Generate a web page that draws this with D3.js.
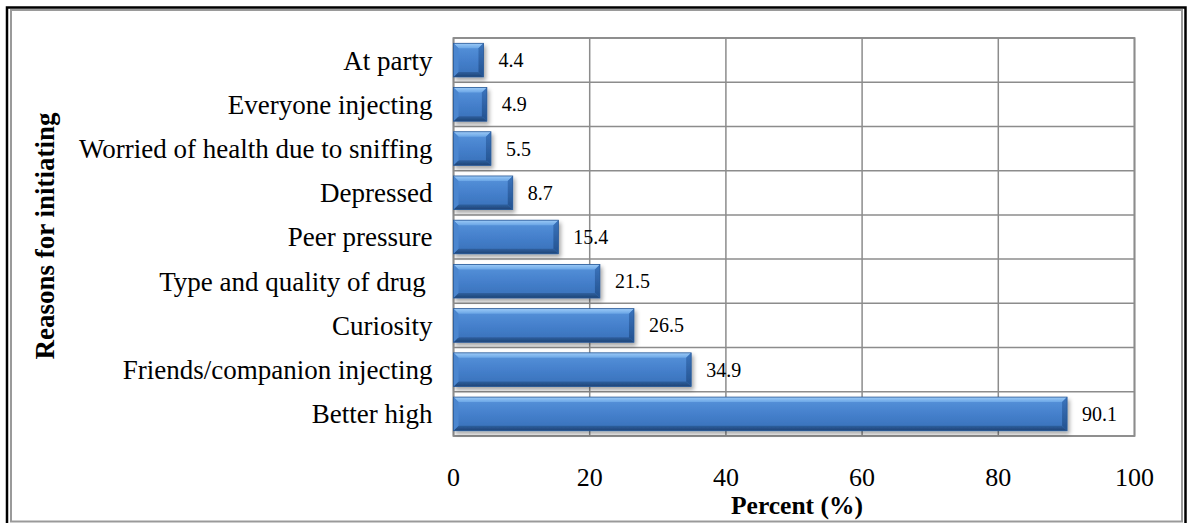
<!DOCTYPE html>
<html>
<head>
<meta charset="utf-8">
<script src="https://cdn.jsdelivr.net/npm/d3@7/dist/d3.min.js"></script>
<style>
  html, body { margin: 0; padding: 0; background: #fff; }
  svg { display: block; }
  text { font-family: "Liberation Serif", "Times New Roman", serif; fill: #000; }
</style>
</head>
<body>
<svg id="chart" width="1189" height="523"></svg>
<script>
// Reasons for initiating injection (percent of respondents)
const categories = [
  "At party",
  "Everyone injecting",
  "Worried of health due to sniffing",
  "Depressed",
  "Peer pressure",
  "Type and quality of drug ",
  "Curiosity",
  "Friends/companion injecting",
  "Better high"
];
const values = [4.4, 4.9, 5.5, 8.7, 15.4, 21.5, 26.5, 34.9, 90.1];
const valueLabels = ["4.4", "4.9", "5.5", "8.7", "15.4", "21.5", "26.5", "34.9", "90.1"];
const xTicks = [0, 20, 40, 60, 80, 100];
const xTitle = "Percent (%)";
const yTitle = "Reasons for initiating";

const svg = d3.select("#chart");
const W = 1189, H = 523;

// Outer frame: dark outline with a grey inner border
svg.append("path")
  .attr("d", `M7,${H} V7.5 H1185.5 V${H}`)
  .attr("fill", "none").attr("stroke", "#000").attr("stroke-width", 2.5);
svg.append("rect")
  .attr("x", 11).attr("y", 10).attr("width", 1171).attr("height", 511.5)
  .attr("fill", "#fff").attr("stroke", "#9a9a9a").attr("stroke-width", 2);

const plot = { left: 453.5, right: 1134.5, top: 38, bottom: 436 };

const x = d3.scaleLinear().domain([0, 100]).range([plot.left, plot.right]);
const y = d3.scaleBand().domain(categories).range([plot.top, plot.bottom])
  .paddingInner(0.24).paddingOuter(0.12);

const defs = svg.append("defs");
function grad(id, stops) {
  const g = defs.append("linearGradient").attr("id", id)
    .attr("x1", 0).attr("y1", 0).attr("x2", 0).attr("y2", 1);
  stops.forEach(([o, c]) => g.append("stop").attr("offset", o).attr("stop-color", c));
}
grad("faceGrad", [[0, "#5894db"], [0.5, "#4580cc"], [1, "#3870b8"]]);
grad("topGrad", [[0, "#9ccaf7"], [1, "#6aa6e6"]]);
grad("botGrad", [[0, "#2f609f"], [1, "#1e4476"]]);
grad("sideGrad", [[0, "#3b74bd"], [1, "#24528f"]]);

const shadow = defs.append("filter").attr("id", "barShadow")
  .attr("x", "-10%").attr("y", "-30%").attr("width", "130%").attr("height", "180%");
shadow.append("feDropShadow")
  .attr("dx", 2).attr("dy", 3).attr("stdDeviation", 2.2)
  .attr("flood-color", "#000").attr("flood-opacity", 0.35);

// Plot area background
svg.append("rect")
  .attr("x", plot.left).attr("y", plot.top)
  .attr("width", plot.right - plot.left).attr("height", plot.bottom - plot.top)
  .attr("fill", "#fff");

// Vertical gridlines at each tick
svg.append("g").selectAll("line").data(xTicks).join("line")
  .attr("x1", d => x(d)).attr("x2", d => x(d))
  .attr("y1", plot.top).attr("y2", plot.bottom)
  .attr("stroke", "#8c8c8c").attr("stroke-width", 1.5);

// Horizontal gridlines at category boundaries
const bounds = d3.range(categories.length + 1).map(i => plot.top + (plot.bottom - plot.top) * i / categories.length);
svg.append("g").selectAll("line").data(bounds).join("line")
  .attr("x1", plot.left).attr("x2", plot.right)
  .attr("y1", d => d).attr("y2", d => d)
  .attr("stroke", "#8c8c8c").attr("stroke-width", 1.5);

// Plot area border
svg.append("rect")
  .attr("x", plot.left).attr("y", plot.top)
  .attr("width", plot.right - plot.left).attr("height", plot.bottom - plot.top)
  .attr("fill", "none").attr("stroke", "#8c8c8c").attr("stroke-width", 1.8);

// Bevelled bars
const b = 5;
const bars = svg.append("g").selectAll("g").data(categories).join("g")
  .attr("filter", "url(#barShadow)");
bars.each(function (c, i) {
  const g = d3.select(this);
  const x0 = x(0), x1 = x(values[i]);
  const y0 = y(c), y1 = y(c) + y.bandwidth();
  const bb = Math.min(b, (x1 - x0) / 2);
  g.append("rect").attr("x", x0).attr("y", y0).attr("width", x1 - x0).attr("height", y1 - y0)
    .attr("fill", "url(#faceGrad)");
  // top facet
  g.append("path").attr("d", `M${x0},${y0} L${x1},${y0} L${x1 - bb},${y0 + bb} L${x0 + bb},${y0 + bb} Z`)
    .attr("fill", "url(#topGrad)");
  // bottom facet
  g.append("path").attr("d", `M${x0},${y1} L${x1},${y1} L${x1 - bb},${y1 - bb} L${x0 + bb},${y1 - bb} Z`)
    .attr("fill", "url(#botGrad)");
  // right facet
  g.append("path").attr("d", `M${x1},${y0} L${x1},${y1} L${x1 - bb},${y1 - bb} L${x1 - bb},${y0 + bb} Z`)
    .attr("fill", "url(#sideGrad)");
  // left facet
  g.append("path").attr("d", `M${x0},${y0} L${x0},${y1} L${x0 + bb},${y1 - bb} L${x0 + bb},${y0 + bb} Z`)
    .attr("fill", "#4b86cf");
  g.append("rect").attr("x", x0).attr("y", y0).attr("width", x1 - x0).attr("height", y1 - y0)
    .attr("fill", "none").attr("stroke", "#2a5a97").attr("stroke-width", 0.8);
});

// Value labels
svg.append("g").selectAll("text").data(categories).join("text")
  .attr("x", (c, i) => x(values[i]) + 15)
  .attr("y", c => y(c) + y.bandwidth() / 2)
  .attr("dy", "0.35em")
  .attr("font-size", 20)
  .text((c, i) => valueLabels[i]);

// Category labels
svg.append("g").selectAll("text").data(categories).join("text")
  .attr("x", plot.left - 21)
  .attr("y", c => y(c) + y.bandwidth() / 2)
  .attr("dy", "0.35em")
  .attr("text-anchor", "end")
  .attr("font-size", 27)
  .style("white-space", "pre")
  .text(c => c);

// X tick labels
svg.append("g").selectAll("text").data(xTicks).join("text")
  .attr("x", d => x(d))
  .attr("y", 486)
  .attr("text-anchor", "middle")
  .attr("font-size", 26)
  .text(d => d);

// Axis titles
svg.append("text")
  .attr("x", 797).attr("y", 514)
  .attr("text-anchor", "middle")
  .attr("font-size", 25.5).attr("font-weight", "bold")
  .text(xTitle);

svg.append("text")
  .attr("transform", "translate(54,236) rotate(-90)")
  .attr("text-anchor", "middle")
  .attr("font-size", 27).attr("font-weight", "bold")
  .text(yTitle);
</script>
</body>
</html>
